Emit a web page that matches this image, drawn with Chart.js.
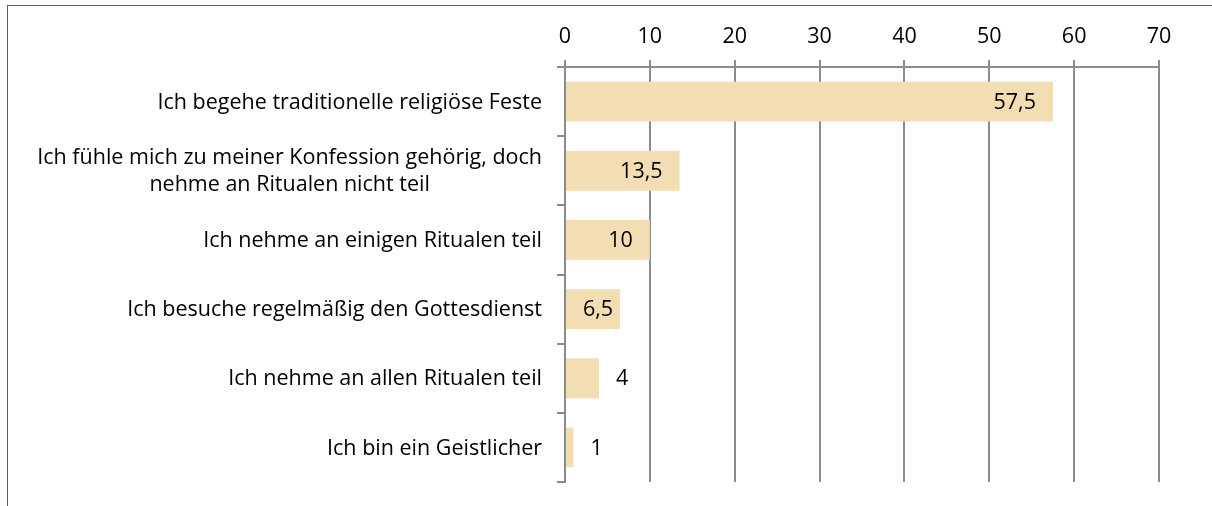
<!DOCTYPE html>
<html>
<head>
<meta charset="utf-8">
<script src="https://cdn.jsdelivr.net/npm/chart.js@4.4.1/dist/chart.umd.min.js"></script>
<style>
    body { margin: 0; background: #fff; }
    #wrap { width: 1212px; height: 506px; position: relative; }
</style>
</head>
<body>
<div id="wrap"><canvas id="chart"></canvas></div>
<script>
// Daten
const categories = [
    ["Ich begehe traditionelle religiöse Feste"],
    ["Ich fühle mich zu meiner Konfession gehörig, doch", "nehme an Ritualen nicht teil"],
    ["Ich nehme an einigen Ritualen teil"],
    ["Ich besuche regelmäßig den Gottesdienst"],
    ["Ich nehme an allen Ritualen teil"],
    ["Ich bin ein Geistlicher"]
];
const values = [57.5, 13.5, 10, 6.5, 4, 1];
const xTicks = [0, 10, 20, 30, 40, 50, 60, 70];

const FONT = "'Open Sans', sans-serif";
const FONT_SIZE = 21.5;
const GRID = "#8c8c8c";
const LABEL_PAD = 17;

// Rahmen + eigene Beschriftungen (Kategorien mittig zentriert, Werte innen/außen)
const drawExtras = {
    id: 'drawExtras',
    beforeDraw(chart) {
        const ctx = chart.ctx;
        ctx.save();
        ctx.strokeStyle = "#5f5f5f";
        ctx.lineWidth = 1;
        ctx.strokeRect(7.5, 5.5, 1400, 700);
        ctx.restore();
    },
    afterDraw(chart) {
        const ctx = chart.ctx;
        const yScale = chart.scales.y;
        const meta = chart.getDatasetMeta(0);
        ctx.save();
        ctx.font = FONT_SIZE + "px " + FONT;
        ctx.fillStyle = "#000";
        ctx.textBaseline = "middle";
        ctx.textAlign = "center";

        // Kategorien
        const lineH = 27;
        categories.forEach((lines, i) => {
            const yc = yScale.getPixelForValue(i);
            const w = Math.max(...lines.map(l => ctx.measureText(l).width));
            const xc = 542 - w / 2;
            lines.forEach((l, j) => {
                ctx.fillText(l, xc, yc + 1 + (j - (lines.length - 1) / 2) * lineH);
            });
        });

        // Werte
        ctx.textAlign = "left";
        meta.data.forEach((bar, i) => {
            const txt = String(values[i]).replace('.', ',');
            const w = ctx.measureText(txt).width;
            let x;
            if (values[i] >= 5) {
                x = Math.max(bar.x - LABEL_PAD - w, bar.base + LABEL_PAD);
            } else {
                x = bar.x + LABEL_PAD;
            }
            ctx.fillText(txt, x, bar.y + 1);
        });
        ctx.restore();
    }
};

new Chart(document.getElementById("chart"), {
    type: 'bar',
    data: {
        labels: categories,
        datasets: [{
            data: values,
            backgroundColor: "#f3ddb3",
            borderWidth: 0,
            barPercentage: 0.575,
            categoryPercentage: 1
        }]
    },
    options: {
        indexAxis: 'y',
        responsive: true,
        maintainAspectRatio: false,
        animation: false,
        layout: { padding: { left: 0, right: 53, top: 0, bottom: 24 } },
        scales: {
            x: {
                position: 'top',
                min: 0,
                max: 70,
                afterBuildTicks: (scale) => { scale.ticks = xTicks.map(v => ({ value: v })); },
                afterFit: (scale) => { scale.height = 67; },
                ticks: {
                    font: { family: FONT, size: FONT_SIZE },
                    color: "#000",
                    padding: 10
                },
                grid: { color: GRID, lineWidth: 2, tickLength: 7 },
                border: { display: true, color: GRID, width: 2 }
            },
            y: {
                offset: true,
                afterFit: (scale) => { scale.width = 565; },
                ticks: { display: false },
                grid: { offset: true, drawOnChartArea: false, color: GRID, lineWidth: 2, tickLength: 8 },
                border: { display: true, color: GRID, width: 2 }
            }
        },
        plugins: {
            legend: { display: false },
            tooltip: { enabled: false }
        }
    },
    plugins: [drawExtras]
});
</script>
</body>
</html>
